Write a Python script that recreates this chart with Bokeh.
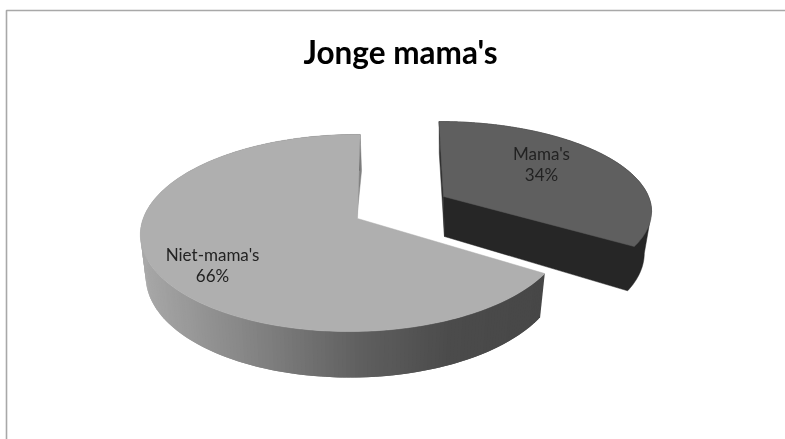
import math
from bokeh.plotting import figure
from bokeh.models import Range1d
from bokeh.core.properties import value
from bokeh.embed import file_html
from bokeh.resources import INLINE

chart_title = "Jonge mama's"
categories = ["Mama's", "Niet-mama's"]
shares = [34, 66]

W, H = 785, 439
p = figure(width=W, height=H, output_backend="svg", toolbar_location=None,
           x_range=Range1d(0, W), y_range=Range1d(H, 0), min_border=0,
           outline_line_color=None, background_fill_color="white",
           border_fill_color="white")
p.styles = {"position": "fixed", "left": "0px", "top": "0px"}
p.xaxis.visible = False
p.yaxis.visible = False
p.grid.visible = False

# frame
p.line(x=[6, 6, W], y=[H, 10, 10], line_color="#A8A8A8", line_width=1.6)


def make(ax, ay, A, B, k, m, s, d0, d1, ys, xs):
    def top_uv(u, v):
        D = 1 - k * v + m * u
        return ax + (B * u + s * v) / D, ay + A * v / D

    def top(t):
        return top_uv(math.sin(t), -math.cos(t))

    def low(t):
        u, v = math.sin(t), -math.cos(t)
        x, y = top_uv(u, v)
        return ax + (x - ax) * xs, ay + (y - ay) * ys + d0 + d1 * v

    return top, low


def arc_points(f, a0, a1, n=240):
    return [f(a0 + (a1 - a0) * i / n) for i in range(n + 1)]


total = sum(shares)
gap = 2 * math.pi * shares[0] / total

# large slice (Niet-mama's): runs from the gap end round to the top
main_top, main_low = make(357, 218, 96.4, 210, 0.147, 0.02, -3, 41, 5, 1.0, 0.975)
# exploded slice (Mama's)
ex_top, ex_low = make(443, 196, 86, 205, 0.147, 0.0, 5, 40, 8, 1.0, 0.965)


def rim_grey(x):
    stops = [(140, 0xA8), (250, 0x84), (357, 0x60), (450, 0x4B), (545, 0x47)]
    if x <= stops[0][0]:
        g = stops[0][1]
    elif x >= stops[-1][0]:
        g = stops[-1][1]
    else:
        for (x0, g0), (x1, g1) in zip(stops, stops[1:]):
            if x0 <= x <= x1:
                g = g0 + (g1 - g0) * (x - x0) / (x1 - x0)
                break
    g = int(round(g))
    return f"#{g:02x}{g:02x}{g:02x}"


# --- large slice ---
a0, a1 = gap, 2 * math.pi
c_t, c_l = main_top(a1), main_low(a1)
p.patch(x=[c_t[0], c_l[0] + 1.5, 356, 350], y=[c_t[1], c_l[1], 220, 180],
        fill_color="#808080", line_color="#808080", line_width=0.5)

tp = arc_points(main_top, a0, a1)
lp = arc_points(main_low, a0, a1)
xs_q, ys_q, cols = [], [], []
for i in range(0, len(tp) - 1):
    if tp[i][0] > 560:
        continue
    j = min(i + 2, len(tp) - 1)  # overlap neighbours so no seams show
    xs_q.append([tp[i][0], tp[j][0], lp[j][0], lp[i][0]])
    ys_q.append([tp[i][1], tp[j][1], lp[j][1], lp[i][1]])
    cols.append(rim_grey((tp[i][0] + tp[i + 1][0]) / 2))
p.patches(xs=xs_q, ys=ys_q, fill_color=cols, line_color=None)
p.patch(x=[357] + [q[0] for q in tp], y=[218] + [q[1] for q in tp],
        fill_color="#AFAFAF", line_color="#AFAFAF", line_width=0.5)

# --- exploded slice ---
b0, b1 = 0.0, gap
tp = arc_points(ex_top, b0, b1)
lp = arc_points(ex_low, b0, b1)
ax, ay = 443, 196
alx, aly = 444, 236
dark = "#262626"
p.patch(x=[tp[0][0], lp[0][0], alx, ax], y=[tp[0][1], lp[0][1], aly, ay],
        fill_color="#303030", line_color="#303030", line_width=0.5)
# cut wall and outer rim as one dark outline, so no seam shows between them
turn = max(range(len(tp)), key=lambda i: tp[i][0])
sil = [(ax, ay)] + tp[:turn + 1] + lp[turn:] + [(alx, aly)]
p.patch(x=[q[0] for q in sil], y=[q[1] for q in sil],
        fill_color=dark, line_color=dark, line_width=0.5)
p.patch(x=[ax] + [q[0] for q in tp], y=[ay] + [q[1] for q in tp],
        fill_color="#5F5F5F", line_color="#5F5F5F", line_width=0.5)

# --- texts ---
p.text(x=[400], y=[51], text=[chart_title], text_font=value("Lato"),
       text_font_style="bold", text_font_size="31.5px", text_color="#000000",
       text_align="center", text_baseline="middle")
label_x = [541, 212]
label_y = [153, 254]
for cat, share, lx, ly in zip(categories, shares, label_x, label_y):
    p.text(x=[lx], y=[ly], text=[cat], text_font=value("Lato"), text_font_size="17px",
           text_color="#222222", text_align="center", text_baseline="middle")
    p.text(x=[lx], y=[ly + 21], text=[f"{share}%"], text_font=value("Lato"),
           text_font_size="17px", text_color="#222222", text_align="center",
           text_baseline="middle")

open("out.html", "w").write(file_html(p, INLINE))
